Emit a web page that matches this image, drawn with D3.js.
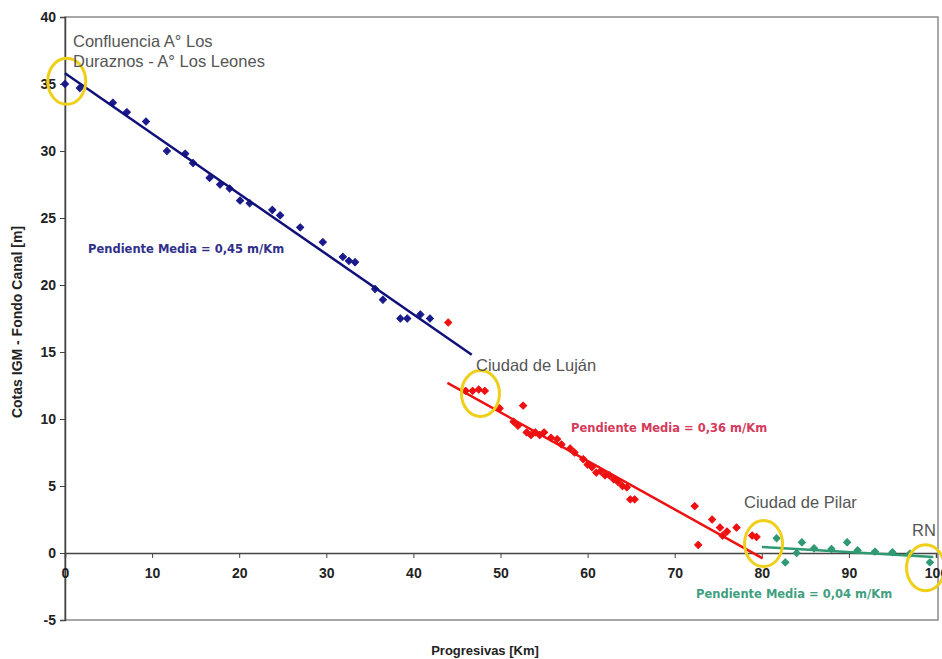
<!DOCTYPE html>
<html>
<head>
<meta charset="utf-8">
<script src="https://cdn.jsdelivr.net/npm/d3@7"></script>
<style>
  body { margin: 0; background: #fff; }
  svg { font-family: Arial, "Liberation Sans", sans-serif; }
  .tick text { font-size: 14px; font-weight: bold; fill: #222; }
  .note { font-size: 16.5px; fill: #555; }
  .slope { font-size: 11.5px; font-weight: bold; font-family: "DejaVu Sans", Verdana, sans-serif; }
</style>
</head>
<body>
<div id="chart"></div>
<script>
// Svg set up
var svgWidth = 942;
var svgHeight = 659;

var margin = { top: 17, right: 4, bottom: 39, left: 65 };
var width = svgWidth - margin.left - margin.right;
var height = svgHeight - margin.top - margin.bottom;

// tramo 1 (azul) - progresiva km, cota m
var blueX = [0, 1.7, 5.5, 7.1, 9.3, 11.7, 13.8, 14.7, 16.6, 17.8, 18.9, 20.1, 21.2, 23.8, 24.7, 27.0, 29.6, 31.9, 32.6, 33.3, 35.6, 36.5, 38.5, 39.3, 40.8, 41.9];
var blueY = [35.0, 34.7, 33.6, 32.9, 32.2, 30.0, 29.8, 29.1, 28.0, 27.5, 27.2, 26.3, 26.1, 25.6, 25.2, 24.3, 23.2, 22.1, 21.8, 21.7, 19.7, 18.9, 17.5, 17.5, 17.8, 17.5];

// tramo 2 (rojo)
var redX = [44.0, 46.0, 46.8, 47.5, 48.2, 49.9, 52.6, 51.5, 52.0, 53.0, 53.5, 54.0, 54.5, 55.0, 55.8, 56.5, 57.0, 58.0, 58.5, 59.5, 60.0, 60.5, 61.0, 61.5, 62.0, 62.5, 63.0, 63.5, 64.0, 64.5, 64.9, 65.4, 72.3, 72.7, 74.3, 75.2, 75.5, 76.0, 77.1, 78.9, 79.4];
var redY = [17.2, 12.1, 12.1, 12.2, 12.1, 10.8, 11.0, 9.8, 9.5, 9.0, 8.8, 9.0, 8.8, 9.0, 8.6, 8.5, 8.1, 7.8, 7.5, 7.0, 6.6, 6.4, 6.0, 6.1, 5.8, 5.8, 5.5, 5.3, 5.0, 4.9, 4.0, 4.0, 3.5, 0.6, 2.5, 1.9, 1.3, 1.6, 1.9, 1.3, 1.2];

// tramo 3 (verde)
var greenX = [81.7, 82.7, 84.0, 84.6, 86.0, 88.0, 89.8, 91.0, 93.0, 95.0, 97.0, 99.3];
var greenY = [1.1, -0.7, 0.0, 0.8, 0.35, 0.3, 0.8, 0.2, 0.1, 0.05, -0.05, -0.7];

// rectas de ajuste [x0, y0, x1, y1]
var blueFit = [0, 35.8, 46.7, 14.8];
var redFit = [43.9, 12.7, 80.1, -0.4];
var greenFit = [80, 0.45, 99.7, -0.3];

var xTicks = [0, 10, 20, 30, 40, 50, 60, 70, 80, 90, 100];
var yTicks = [-5, 0, 5, 10, 15, 20, 25, 30, 35, 40];

// puntos destacados (circulos amarillos)
var spotX = [0.2, 47.7, 80.2, 98.8];
var spotY = [35.2, 11.9, 0.7, -1.1];

var svg = d3.select("#chart")
  .append("svg")
  .attr("width", svgWidth)
  .attr("height", svgHeight);

var chartGroup = svg.append("g")
  .attr("transform", `translate(${margin.left}, ${margin.top})`);

var xScale = d3.scaleLinear().domain([0, 100]).range([0, width - 2]);
var yScale = d3.scaleLinear().domain([-5, 40]).range([height, 0]);

// frame
chartGroup.append("rect")
  .attr("x", 0).attr("y", 0)
  .attr("width", width).attr("height", height)
  .attr("fill", "none")
  .attr("stroke", "#8a8a8a")
  .attr("stroke-width", 1.5);

// y axis
var leftAxis = d3.axisLeft(yScale).tickValues(yTicks).tickSize(5).tickPadding(4)
  .tickFormat(d => String(d));
var yAxis = chartGroup.append("g").call(leftAxis);
yAxis.select(".domain").attr("stroke", "#444").attr("stroke-width", 1.5);
yAxis.selectAll(".tick line").attr("stroke", "#444");

// x axis on the zero line
var bottomAxis = d3.axisBottom(xScale).tickValues(xTicks).tickSize(5).tickPadding(10)
  .tickFormat(d => String(d));
var xAxis = chartGroup.append("g")
  .attr("transform", `translate(0, ${yScale(0)})`)
  .call(bottomAxis);
xAxis.select(".domain").attr("stroke", "#444").attr("stroke-width", 1.5);
xAxis.selectAll(".tick line").attr("stroke", "#444");

// fit lines
function fitLine(f, color) {
  chartGroup.append("line")
    .attr("x1", xScale(f[0])).attr("y1", yScale(f[1]))
    .attr("x2", xScale(f[2])).attr("y2", yScale(f[3]))
    .attr("stroke", color)
    .attr("stroke-width", 2.5);
}

function points(xs, ys, color) {
  chartGroup.selectAll(null)
    .data(xs)
    .enter()
    .append("path")
    .attr("d", d3.symbol().type(d3.symbolSquare).size(26))
    .attr("transform", (d, i) => `translate(${xScale(d)}, ${yScale(ys[i])}) rotate(45)`)
    .attr("fill", color)
    .attr("stroke", color)
    .attr("stroke-width", 1)
    .attr("stroke-linejoin", "round");
}

points(blueX, blueY, "#1a1a8c");
fitLine(blueFit, "#10107a");
points(redX, redY, "#ee1111");
fitLine(redFit, "#ee1111");
points(greenX, greenY, "#2f9a72");
fitLine(greenFit, "#2f9a72");

// yellow circles
chartGroup.selectAll(null)
  .data(spotX)
  .enter()
  .append("ellipse")
  .attr("cx", d => xScale(d))
  .attr("cy", (d, i) => yScale(spotY[i]))
  .attr("rx", 19)
  .attr("ry", 23)
  .attr("fill", "none")
  .attr("stroke", "#f0cf1a")
  .attr("stroke-width", 3);

// place labels
function note(x, y, txt) {
  chartGroup.append("text")
    .attr("class", "note")
    .attr("x", x - margin.left)
    .attr("y", y - margin.top)
    .text(txt);
}
note(73, 47, "Confluencia A° Los");
note(73, 67, "Duraznos - A° Los Leones");
note(476, 371, "Ciudad de Luján");
note(744, 508, "Ciudad de Pilar");
note(912, 536, "RN");

function slope(x, y, txt, color) {
  chartGroup.append("text")
    .attr("class", "slope")
    .attr("x", x - margin.left)
    .attr("y", y - margin.top)
    .attr("fill", color)
    .text(txt);
}
slope(88, 253, "Pendiente Media = 0,45 m/Km", "#30308a");
slope(571, 432, "Pendiente Media = 0,36 m/Km", "#d43a5a");
slope(696, 598, "Pendiente Media = 0,04 m/Km", "#3f9f80");

// axis titles
svg.append("text")
  .attr("transform", "translate(22, 322) rotate(-90)")
  .attr("text-anchor", "middle")
  .attr("font-size", "14px")
  .attr("font-weight", "bold")
  .attr("fill", "#222")
  .text("Cotas IGM - Fondo Canal [m]");

svg.append("text")
  .attr("x", 485)
  .attr("y", 655)
  .attr("text-anchor", "middle")
  .attr("font-size", "13px")
  .attr("font-weight", "bold")
  .attr("fill", "#222")
  .text("Progresivas [Km]");
</script>
</body>
</html>
